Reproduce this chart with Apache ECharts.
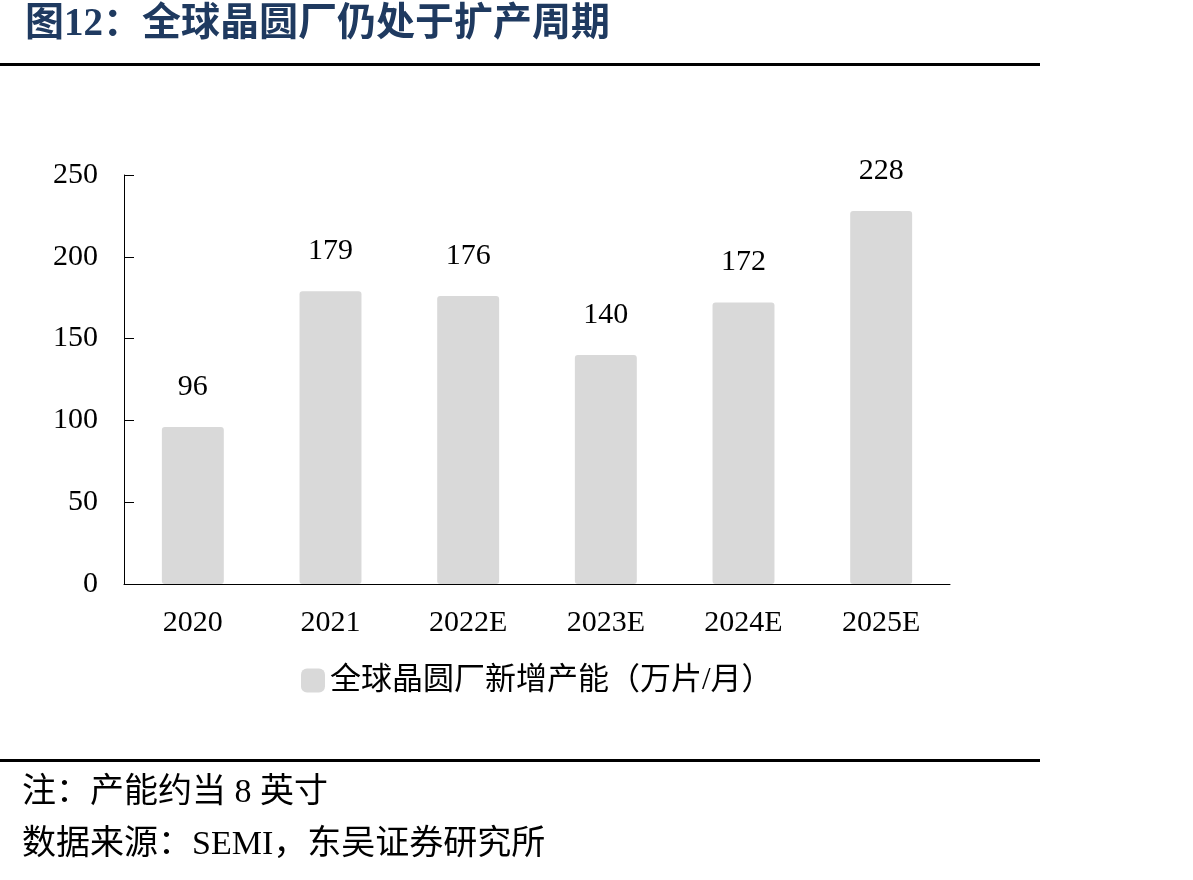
<!DOCTYPE html>
<html><head><meta charset="utf-8">
<script src="https://cdn.jsdelivr.net/npm/echarts@6/dist/echarts.min.js"></script>
<style>html,body{margin:0;padding:0;background:#fff}#c{width:1193px;height:880px}</style>
</head><body><div id="c"></div>
<script>
const categories = ['2020', '2021', '2022E', '2023E', '2024E', '2025E'];
const capacityValues = [96, 179, 176, 140, 172, 228];
const seriesName = '全球晶圆厂新增产能（万片/月）';
const titleText = '图12：全球晶圆厂仍处于扩产周期';
const noteText = '注：产能约当 8 英寸';
const sourceText = '数据来源：SEMI，东吴证券研究所';

const serif = '"Liberation Serif", "DejaVu Serif", serif';
const cjk = '"Liberation Serif", "Noto Sans CJK SC", serif';
const chart = echarts.init(document.getElementById('c'));
chart.setOption({
  animation: false,
  backgroundColor: '#fff',
  title: {
    text: titleText, left: 20, top: 0,
    textStyle: { fontFamily: cjk, fontSize: 39, fontWeight: 'bold', color: '#1f3a60' }
  },
  graphic: [
    { type: 'rect', shape: { x: 0, y: 63, width: 1040, height: 3 }, style: { fill: '#000' } },
    { type: 'rect', shape: { x: 0, y: 759, width: 1040, height: 3 }, style: { fill: '#000' } },
    { type: 'text', left: 22, top: 776, style: { text: noteText, fontFamily: cjk, fontSize: 34, fill: '#000' } },
    { type: 'text', left: 22, top: 828, style: { text: sourceText, fontFamily: cjk, fontSize: 34, fill: '#000' } }
  ],
  legend: {
    data: [seriesName], left: 296, top: 660, itemWidth: 24, itemHeight: 24, itemGap: 8,
    textStyle: { fontFamily: cjk, fontSize: 31, color: '#000' }
  },
  grid: { left: 124, right: 243, top: 175, bottom: 296 },
  xAxis: {
    type: 'category', data: categories,
    axisLine: { lineStyle: { color: '#000', width: 1 } },
    axisTick: { inside: true, length: 10, lineStyle: { color: '#000' } },
    axisLabel: { fontFamily: serif, fontSize: 30, color: '#000', margin: 24 }
  },
  yAxis: {
    type: 'value', min: 0, max: 250, interval: 50,
    splitLine: { show: false },
    axisLine: { show: true, lineStyle: { color: '#000', width: 1 } },
    axisTick: { show: true, inside: true, length: 10, lineStyle: { color: '#000' } },
    axisLabel: { fontFamily: serif, fontSize: 30, color: '#000', margin: 26 }
  },
  series: [{
    name: seriesName, type: 'bar', data: capacityValues, barWidth: '45%',
    itemStyle: { color: '#d9d9d9', borderRadius: 3 },
    label: { show: true, position: 'top', distance: 25, fontFamily: serif, fontSize: 30, color: '#000' }
  }]
});
</script></body></html>
